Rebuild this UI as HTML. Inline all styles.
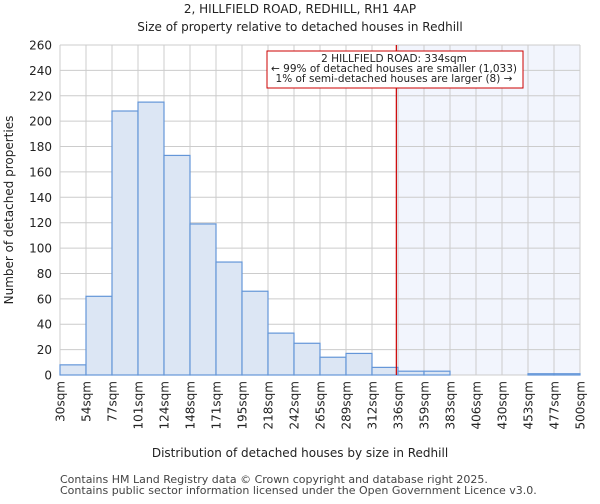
<!DOCTYPE html>
<html><head><meta charset="utf-8"><style>
body{margin:0;background:#fff;font-family:"DejaVu Sans","Liberation Sans",sans-serif;}
</style></head><body>
<svg width="600" height="500" xmlns="http://www.w3.org/2000/svg" font-family="DejaVu Sans, Liberation Sans, sans-serif">
<text x="300" y="13" text-anchor="middle" font-size="12" fill="#222">2, HILLFIELD ROAD, REDHILL, RH1 4AP</text>
<text x="300" y="31" text-anchor="middle" font-size="12" fill="#222">Size of property relative to detached houses in Redhill</text>
<g id="plot"></g>
<text x="300" y="457" text-anchor="middle" font-size="12" fill="#222">Distribution of detached houses by size in Redhill</text>
<text transform="translate(13,210) rotate(-90)" text-anchor="middle" font-size="12" fill="#222">Number of detached properties</text>
<text x="60" y="483" font-size="11" fill="#444">Contains HM Land Registry data © Crown copyright and database right 2025.</text>
<text x="60" y="494" font-size="11" fill="#444">Contains public sector information licensed under the Open Government Licence v3.0.</text>
</svg>
<script>
const binLabels=["30sqm","54sqm","77sqm","101sqm","124sqm","148sqm","171sqm","195sqm","218sqm","242sqm","265sqm","289sqm","312sqm","336sqm","359sqm","383sqm","406sqm","430sqm","453sqm","477sqm","500sqm"];
const counts=[8,62,208,215,173,119,89,66,33,25,14,17,6,3,3,0,0,0,1,1];
const yTicks=[0,20,40,60,80,100,120,140,160,180,200,220,240,260];
const propertySize=334;
const binStart=30, binEnd=500;
const NS="http://www.w3.org/2000/svg";
const L=60,R=580,T=45,B=375,yMax=260;
const xs=i=>L+(R-L)*i/counts.length;
const xv=v=>L+(R-L)*(v-binStart)/(binEnd-binStart);
const ys=v=>B-(B-T)*v/yMax;
const g=document.getElementById('plot');
function mk(tag,attrs){const e=document.createElementNS(NS,tag);for(const k in attrs)e.setAttribute(k,attrs[k]);g.appendChild(e);return e;}
const px=xv(propertySize);
let e=mk('rect',{x:px,y:T,width:R-px,height:B-T,fill:'#f2f5fd'});


for(let i=0;i<=counts.length;i++){e=mk('line',{x1:xs(i),x2:xs(i),y1:T,y2:B,stroke:'#ccc','stroke-width':1});

}
yTicks.forEach(v=>{e=mk('line',{x1:L,x2:R,y1:ys(v),y2:ys(v),stroke:'#ccc','stroke-width':1});


const t=mk('text',{x:L-8,y:ys(v)+4.5,'text-anchor':'end','font-size':12,fill:'#222'});t.textContent=v;

});
counts.forEach((c,i)=>{if(c<=0)return;e=mk('rect',{x:xs(i),y:ys(c),width:xs(i+1)-xs(i),height:B-ys(c),fill:'#dce6f4',stroke:'#6496d8','stroke-width':1.2});

});
binLabels.forEach((lab,i)=>{const x=xs(i);const t=mk('text',{transform:`translate(${x+4.5},${B+6}) rotate(-90)`,'text-anchor':'end','font-size':12,fill:'#222'});t.textContent=lab;

});
e=mk('line',{x1:px,x2:px,y1:T,y2:B,stroke:'#cc0000','stroke-width':1.2});


e=mk('rect',{x:267,y:51,width:256,height:37,fill:'#fff',stroke:'#cc0000','stroke-width':1});


["2 HILLFIELD ROAD: 334sqm","← 99% of detached houses are smaller (1,033)","1% of semi-detached houses are larger (8) →"].forEach((s,k)=>{const t=mk('text',{x:394,y:62+k*10,'text-anchor':'middle','font-size':10.5,fill:'#222'});t.textContent=s;

});
</script>
</body></html>
